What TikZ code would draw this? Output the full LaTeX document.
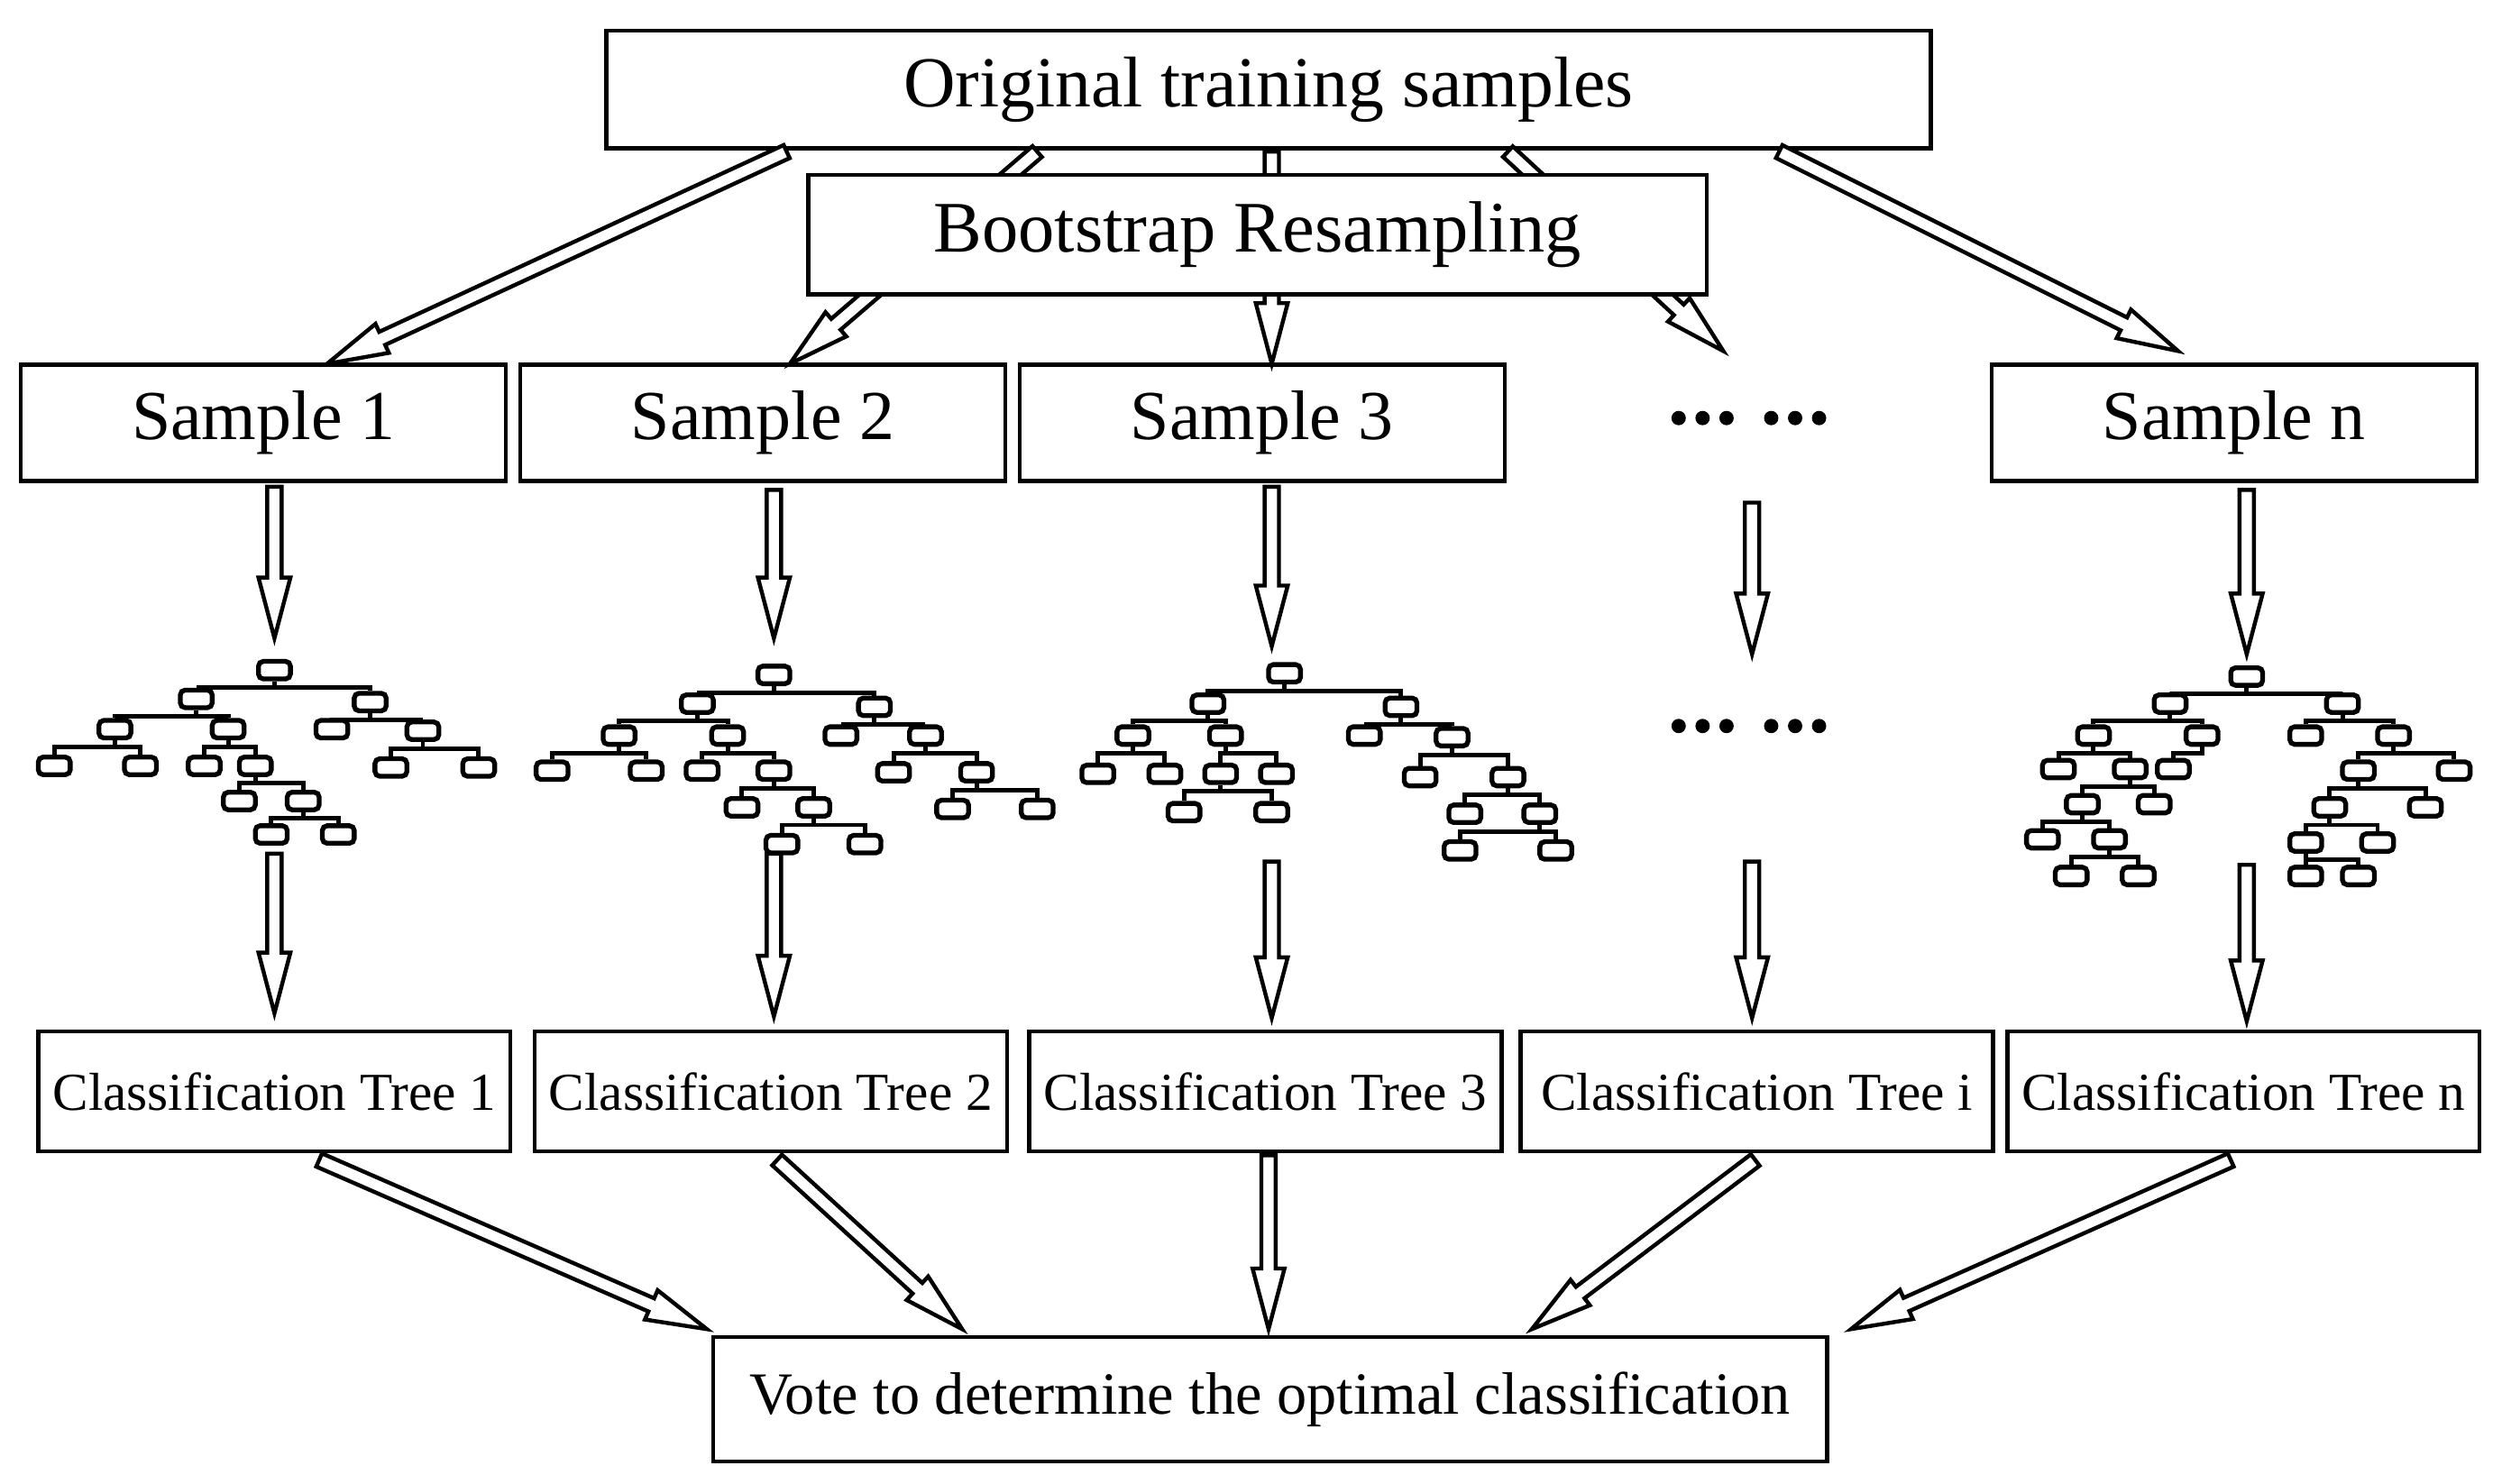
\documentclass[tikz,border=0pt]{standalone}
\usepackage{fontspec}
\setmainfont{Liberation Serif}
\usetikzlibrary{calc}
\begin{document}
\begin{tikzpicture}[x=1pt,y=-1pt,
  box/.style={draw,line width=2.4pt,minimum height=74pt,inner sep=0pt},
  tb/.style={draw,line width=3pt,rounded corners=3pt,minimum width=20pt,minimum height=11pt,inner sep=0pt},
  tl/.style={line width=2.8pt}]
\useasboundingbox (0,0) rectangle (1568,930);
\newcommand{\harrow}[2]{%
 \draw[line width=2.5pt,fill=white,line join=miter] let \p1=(#1),\p2=(#2),\n1={atan2(\y2-\y1,\x2-\x1)},\n2={veclen(\x2-\x1,\y2-\y1)} in
 [shift={(\p1)},rotate=\n1] (0,-4.5)--(\n2-38,-4.5)--(\n2-38,-10)--(\n2,0)--(\n2-38,10)--(\n2-38,4.5)--(0,4.5)--cycle;}
% top box
\node[box,minimum width=830pt,font=\fontsize{45}{45}\selectfont] (orig) at (795,56) {Original training samples};
% top arrows (behind bootstrap)
\foreach \k/\a/\b/\c/\d in {t1/493/95/205/228,t2/650/95/495/228,t3/797/95/797/228,t4/945/95/1080/220,t5/1115/95/1365/220}{
  \coordinate (\k s) at (\a,\b); \coordinate (\k e) at (\c,\d); \harrow{\k s}{\k e}}
\node[box,fill=white,minimum width=563pt,minimum height=75pt,font=\fontsize{45.5}{45.5}\selectfont] (boot) at (788,147) {Bootstrap Resampling};
% samples
\foreach \k/\x/\t in {s1/165/Sample 1,s2/478/Sample 2,s3/791/Sample 3,sn/1400/Sample n}
  \node[box,minimum width=304pt,minimum height=73pt,font=\fontsize{44}{44}\selectfont] (\k) at (\x,265) {\t};
\foreach \y in {262,455}{
 \foreach \x in {1052,1067,1082,1110,1125,1140} \fill (\x,\y) circle (4.5pt);}
% classification
\foreach \k/\x/\t in {c1/172/1,c2/483/2,c3/793/3,ci/1101/i,cn/1406/n}
  \node[box,minimum width=296pt,minimum height=75pt,font=\fontsize{33.5}{33.5}\selectfont] (\k) at (\x,684) {Classification Tree \t};
\node[box,minimum width=698pt,minimum height=78pt,font=\fontsize{37.5}{37.5}\selectfont] (vote) at (796,877) {Vote to determine the optimal classification};
% vertical arrows
\foreach \k/\x/\a/\b/\c/\d in {v1/172/305/400/535/635,v2/485/307/400/535/637,v3/797/305/405/540/638,v4/1098/315/410/540/638,v5/1408/307/410/542/640}{
  \coordinate (\k a) at (\x,\a); \coordinate (\k b) at (\x,\b); \harrow{\k a}{\k b}
  \coordinate (\k c) at (\x,\c); \coordinate (\k d) at (\x,\d); \harrow{\k c}{\k d}}
% bottom arrows
\foreach \k/\a/\b/\c/\d in {b1/200/727/443/833,b2/487/727/603/833,b3/795/724/795/833,b4/1100/727/960/833,b5/1398/727/1160/833}{
  \coordinate (\k s) at (\a,\b); \coordinate (\k e) at (\c,\d); \harrow{\k s}{\k e}}
% trees
\newcommand{\tree}[1]{%
 \foreach \k/\x/\y/\p in {#1}{
   \node[tb] (\k) at (\x,\y) {};
   \ifx\p\empty\else \draw[tl] (\p.south) -- ++(0,4) -| (\k.north);\fi}}
\tree{a0/172/420/,a1/123/438/a0,a2/232/440/a0,a3/72/457/a1,a4/143/457/a1,a5/208/457/a2,a6/265/458/a2,
 a7/34/480/a3,a8/88/480/a3,a9/128/480/a4,a10/160/480/a4,a11/245/481/a6,a12/300/481/a6,
 a13/150/502/a10,a14/190/502/a10,a15/170/523/a14,a16/212/523/a14}
\tree{b0/485/423/,b1/437/441/b0,b2/548/443/b0,b3/388/461/b1,b4/456/461/b1,b5/527/461/b2,b6/580/461/b2,
 b7/346/483/b3,b8/405/483/b3,b9/440/483/b4,b10/485/483/b4,b11/560/484/b6,b12/612/484/b6,
 b13/465/506/b10,b14/510/506/b10,b15/597/507/b12,b16/650/507/b12,b17/490/529/b14,b18/542/529/b14}
\tree{c0/805/422/,c1/757/441/c0,c2/878/443/c0,c3/710/461/c1,c4/768/461/c1,c5/855/461/c2,c6/910/462/c2,
 c7/688/485/c3,c8/730/485/c3,c9/765/485/c4,c10/800/485/c4,c11/890/487/c6,c12/945/487/c6,
 c13/742/509/c9,c14/797/509/c9,c15/918/510/c12,c16/965/510/c12,c17/915/533/c16,c18/975/533/c16}
\tree{d0/1408/424/,d1/1360/441/d0,d2/1468/441/d0,d3/1312/461/d1,d4/1380/461/d1,d5/1445/461/d2,d6/1500/461/d2,
 d7/1290/482/d3,d8/1335/482/d3,d9/1362/482/d4,d10/1478/483/d6,d11/1538/483/d6,
 d12/1305/504/d8,d13/1350/504/d8,d14/1460/506/d10,d15/1520/506/d10,
 d16/1280/526/d12,d17/1322/526/d12,d18/1445/528/d14,d19/1490/528/d14,d20/1298/549/d17,d21/1340/549/d17,d22/1445/549/d18,d23/1478/549/d18}
\end{tikzpicture}
\end{document}
